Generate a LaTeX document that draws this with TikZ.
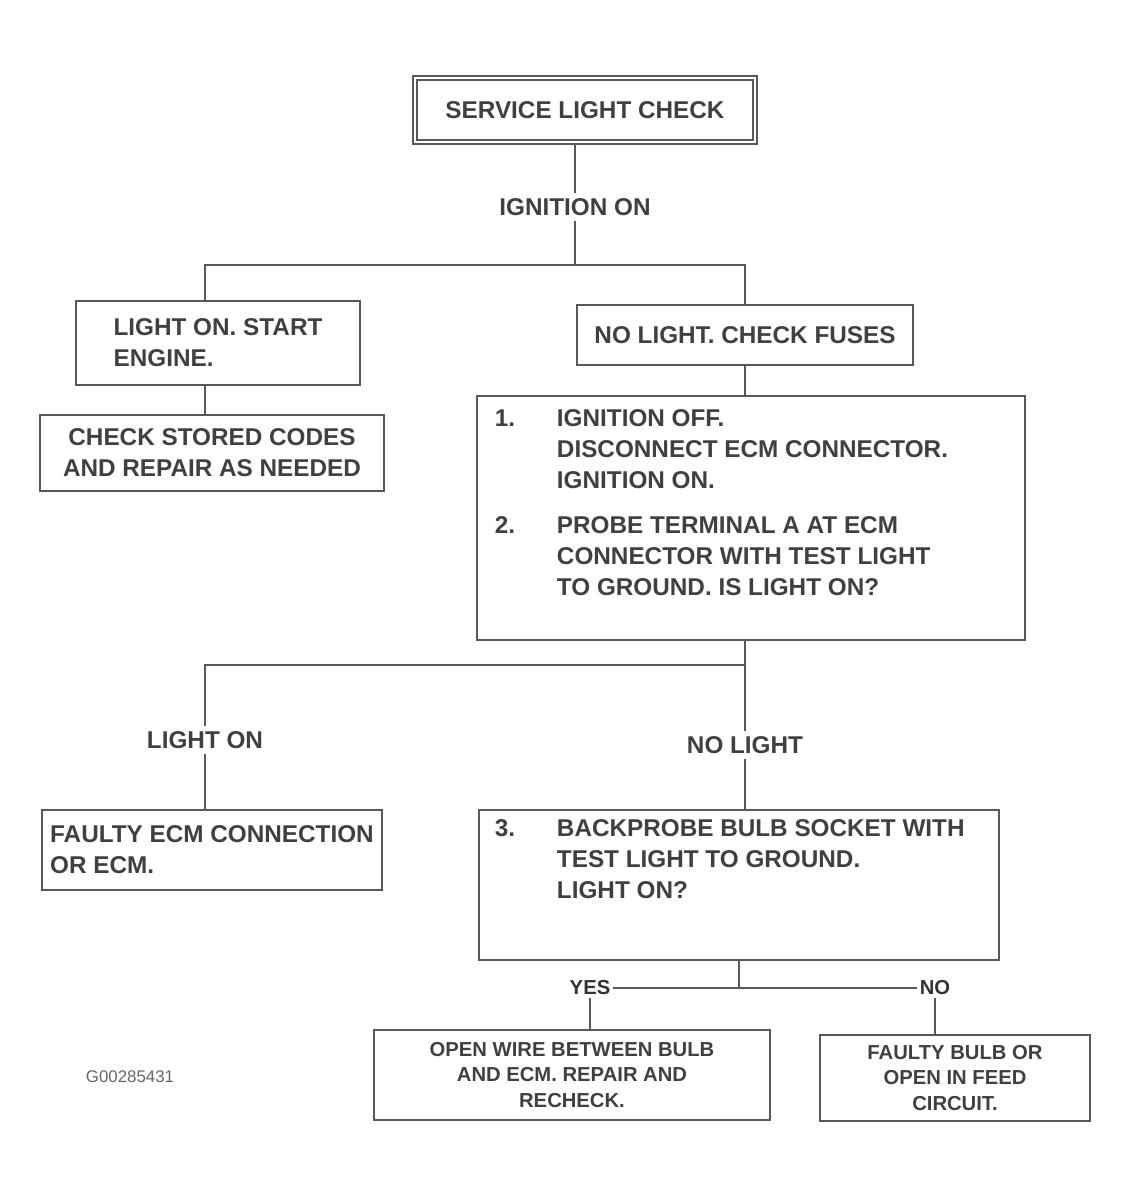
\documentclass[tikz,border=0pt]{standalone}
\usepackage{fontspec}
\setmainfont{Liberation Sans}
\usetikzlibrary{positioning, arrows.meta}

\begin{document}
\begin{tikzpicture}[x=0.025cm, y=-0.025cm]
	% ----- Styles -----
	\tikzset{
		box/.style={
			rectangle, draw=black!65, line width=1.3pt,
			inner sep=6pt, align=left, text=black!75,
			font=\LARGE\bfseries
		},
		titlebox/.style={box, double, double distance=2pt, align=center},
		smallbox/.style={box, align=center, font=\Large\bfseries},
		label/.style={align=center, text=black!75, font=\LARGE\bfseries},
		stepno/.style={anchor=north west, text=black!75, font=\LARGE\bfseries},
		steptext/.style={anchor=north west, align=left, text=black!75, font=\LARGE\bfseries},
		branch/.style={text=black!80, font=\Large\bfseries, inner sep=2pt},
		line/.style={draw=black!65, line width=1.3pt}
	}
	\useasboundingbox (0,0) rectangle (1144,1198);

	% ----- Nodes -----
	\node (top) [titlebox, minimum width=8.5cm, minimum height=1.6cm] at (585,110) {SERVICE LIGHT CHECK};
	\node (ign) [label] at (575,207) {IGNITION ON};

	\node (lon)  [box, minimum width=7.1cm, minimum height=2.1cm] at (218,343) {LIGHT ON. START\\ENGINE.};
	\node (codes) [box, align=center, minimum width=8.6cm, minimum height=1.9cm] at (212,453) {CHECK STORED CODES\\AND REPAIR AS NEEDED};

	\node (nol)  [box, align=center, minimum width=8.4cm, minimum height=1.5cm] at (745,335) {NO LIGHT. CHECK FUSES};
	\node (ecm)  [box, minimum width=13.7cm, minimum height=6.1cm] at (751,518) {};
	\node (n1) [stepno] at (490,405) {1.};
	\node (t1) [steptext] at (552,405) {IGNITION OFF.\\DISCONNECT ECM CONNECTOR.\\IGNITION ON.};
	\node (n2) [stepno] at (490,512) {2.};
	\node (t2) [steptext] at (552,512) {PROBE TERMINAL A AT ECM\\CONNECTOR WITH TEST LIGHT\\TO GROUND. IS LIGHT ON?\\};

	\node (yl) [label] at (205,740) {LIGHT ON};
	\node (nl) [label] at (745,745) {NO LIGHT};

	\node (bad)  [box, minimum width=7.4cm, minimum height=2cm] at (212,850) {FAULTY ECM CONNECTION\\OR ECM.};
	\node (bulb) [box, minimum width=13cm, minimum height=3.75cm] at (739,885) {};
	\node (n3) [stepno] at (490,815) {3.};
	\node (t3) [steptext] at (552,815) {BACKPROBE BULB SOCKET WITH\\TEST LIGHT TO GROUND.\\LIGHT ON?};

	\node (yes) [branch] at (590,988) {YES};
	\node (no)  [branch] at (935,988) {NO};

	\node (open) [smallbox, minimum width=9.9cm, minimum height=2.25cm] at (572,1075) {OPEN WIRE BETWEEN BULB\\AND ECM. REPAIR AND\\RECHECK.};
	\node (feed) [smallbox, minimum width=6.75cm, minimum height=2.15cm] at (955,1078) {FAULTY BULB OR\\OPEN IN FEED\\CIRCUIT.};

	\node (fig) [text=black!60, font=\large] at (130,1077) {G00285431};

	% ----- Connectors -----
	\coordinate (s1) at (575,265);
	\coordinate (s2) at (745,665);
	\coordinate (s3) at (739,988);

	\draw[line] (top.south -| ign) -- (ign);
	\draw[line] (ign) -- (s1);
	\draw[line] (lon.north -| 205,0) |- (s1) -| (nol.north);
	\draw[line] (lon.south -| 205,0) -- (codes.north -| 205,0);
	\draw[line] (nol) -- (ecm.north -| nol);

	\draw[line] (ecm.south -| s2) -- (s2);
	\draw[line] (yl) |- (s2) -| (nl);
	\draw[line] (yl) -- (bad.north -| yl);
	\draw[line] (nl) -- (bulb.north -| nl);

	\draw[line] (bulb.south) -- (s3);
	\draw[line] (yes) -- (no);
	\draw[line] (yes) -- (open.north -| yes);
	\draw[line] (no) -- (feed.north -| no);
\end{tikzpicture}
\end{document}
